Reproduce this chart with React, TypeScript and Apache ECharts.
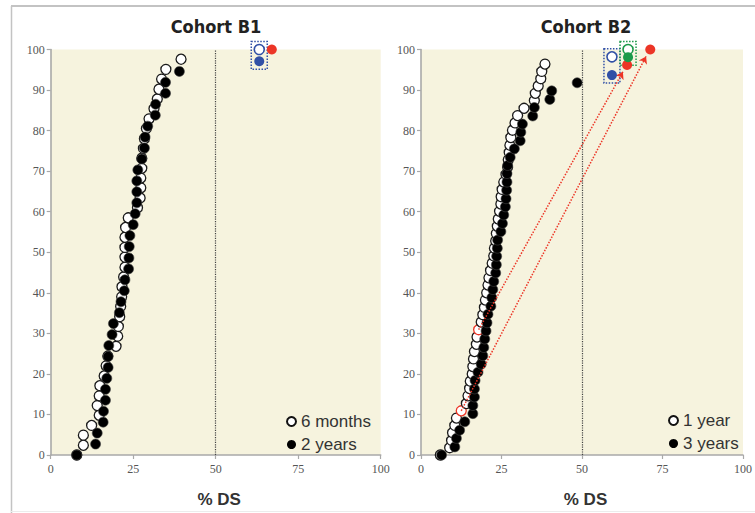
import React, { useEffect, useRef } from "react";
import * as echarts from "echarts";

// ---- Cohort B1 ----
const b1SixMonthsX = [7.9, 9.9, 9.9, 12.4, 14.7, 14.1, 14.7, 14.9, 16.2, 16.8, 17.3, 19.8, 20.3, 20.5, 20.9, 21.2, 21.5, 21.6, 22.1, 22.5, 22.5, 22.5, 22.5, 22.7, 23.5, 26.3, 27.1, 27.3, 27.3, 27.6, 27.6, 28.1, 28.4, 29.0, 29.8, 31.3, 32.3, 32.8, 33.6, 34.9, 39.5];
const b1SixMonthsY = [0, 2.4, 4.9, 7.3, 9.8, 12.2, 14.6, 17.1, 19.5, 22.0, 24.4, 26.8, 29.3, 31.7, 34.1, 36.6, 39.0, 41.5, 43.9, 46.3, 48.8, 51.2, 53.7, 56.1, 58.5, 61.0, 63.4, 65.9, 68.3, 70.7, 73.2, 75.6, 78.0, 80.5, 82.9, 85.4, 87.8, 90.2, 92.7, 95.1, 97.6];
const b1TwoYearsX = [7.9, 13.6, 14.1, 15.9, 16.0, 16.6, 16.6, 17.0, 17.4, 17.4, 17.6, 18.6, 19.0, 20.8, 21.3, 22.3, 22.5, 23.6, 23.7, 23.8, 24.0, 25.0, 25.6, 26.1, 26.1, 26.1, 26.4, 27.6, 28.4, 28.6, 29.4, 31.7, 31.8, 34.8, 34.8, 39.0];
const b1TwoYearsY = [0, 2.7, 5.4, 8.1, 10.8, 13.5, 16.2, 18.9, 21.6, 24.3, 27.0, 29.7, 32.4, 35.1, 37.8, 40.5, 43.2, 45.9, 48.6, 51.4, 54.1, 56.8, 59.5, 62.2, 64.9, 67.6, 70.3, 73.0, 75.7, 78.4, 81.1, 83.8, 86.5, 89.2, 91.9, 94.6];
const b1BlueOpen = [63.2, 100];
const b1BlueFilled = [63.2, 97.1];
const b1RedFilled = [67.0, 100];

// ---- Cohort B2 ----
const b2OneYearX = [6.0, 8.9, 9.5, 9.8, 10.5, 11.0, 12.5, 14.1, 14.6, 15.1, 15.3, 15.9, 16.1, 16.3, 16.6, 17.2, 17.4, 17.9, 18.7, 19.2, 19.7, 20.0, 20.4, 20.8, 21.1, 21.6, 22.1, 22.6, 22.8, 23.2, 23.4, 23.7, 24.0, 24.4, 24.8, 24.9, 25.2, 25.7, 26.4, 26.9, 27.1, 27.4, 27.6, 27.9, 28.4, 29.2, 30.0, 32.0, 35.2, 35.5, 36.4, 37.2, 37.5, 38.5];
const b2OneYearY = [0, 1.8, 3.6, 5.5, 7.3, 9.1, 10.9, 12.7, 14.6, 16.4, 18.2, 20.0, 21.8, 23.7, 25.5, 27.3, 29.1, 30.9, 32.8, 34.6, 36.4, 38.2, 40.0, 41.9, 43.7, 45.5, 47.3, 49.1, 51.0, 52.8, 54.6, 56.4, 58.2, 60.1, 61.9, 63.7, 65.5, 67.3, 69.2, 71.0, 72.8, 74.6, 76.4, 78.3, 80.1, 81.9, 83.7, 85.5, 87.4, 89.2, 91.0, 92.8, 94.6, 96.4];
const b2RedOutlined = [6, 17]; // indices of 1-year points circled in red
const b2ThreeYearsX = [6.4, 10.5, 11.0, 12.0, 13.6, 16.1, 16.1, 16.6, 16.6, 16.8, 17.7, 18.7, 19.2, 19.5, 19.8, 20.2, 20.5, 20.8, 21.7, 22.0, 22.3, 22.6, 23.2, 23.4, 23.5, 23.7, 23.8, 24.8, 25.3, 25.7, 26.2, 26.4, 26.6, 26.7, 26.7, 26.9, 27.7, 29.0, 30.8, 31.0, 31.5, 34.7, 35.2, 40.0, 40.6, 48.5];
const b2ThreeYearsY = [0, 2.0, 4.1, 6.1, 8.2, 10.2, 12.2, 14.3, 16.3, 18.4, 20.4, 22.4, 24.5, 26.5, 28.6, 30.6, 32.6, 34.7, 36.7, 38.8, 40.8, 42.8, 44.9, 46.9, 49.0, 51.0, 53.0, 55.1, 57.1, 59.2, 61.2, 63.2, 65.3, 67.3, 69.4, 71.4, 73.4, 75.5, 77.5, 79.6, 81.6, 83.6, 85.7, 87.7, 89.8, 91.8];
const b2BlueOpen = [59.3, 98.2];
const b2BlueFilled = [59.3, 93.7];
const b2GreenOpen = [64.3, 100];
const b2GreenFilled = [64.3, 98.1];
const b2RedFilledA = [64.0, 96.2];
const b2RedFilledB = [71.2, 100];
const b2Arrows = [
  [[12.5, 10.9], [69.9, 98.3]],
  [[17.9, 30.9], [62.7, 94.5]],
];

const xTicks = { min: 0, max: 100, interval: 25 };
const yTicks = { min: 0, max: 100, interval: 10 };
const cutoff = 50;

const BLUE = "#3150a6";
const RED = "#ec3526";
const GREEN = "#1c9a4a";
const BG = "#f6f3de";
const AXIS = "#a9a9a9";

const zip = (xs: number[], ys: number[]) => xs.map((x, i) => [x, ys[i]]);

const openStyle = { color: "#ffffff", borderColor: "#1a1a1a", borderWidth: 1.3, opacity: 1 };
const filledStyle = { color: "#000000", borderColor: "#444", borderWidth: 0.6, opacity: 1 };

function axisCommon(grid: number) {
  return {
    gridIndex: grid,
    axisLine: { show: true, onZero: false, lineStyle: { color: AXIS, width: 1.6 } },
    axisTick: { show: true, length: 4, lineStyle: { color: AXIS, width: 1.2 } },
    splitLine: { show: false },
    axisLabel: { color: "#555555", fontFamily: "'Liberation Serif', serif", fontSize: 12 },
  };
}

function rectSeries(grid: number, box: number[], color: string) {
  return {
    type: "custom",
    xAxisIndex: grid,
    yAxisIndex: grid,
    silent: true,
    clip: false,
    z: 1,
    data: [box],
    renderItem: (_p: any, api: any) => {
      const top = api.coord([api.value(0), api.value(1)]);
      const bot = api.coord([api.value(0), api.value(2)]);
      return {
        type: "rect",
        shape: { x: top[0] - 8, y: top[1] - 8, width: 16, height: bot[1] - top[1] + 16 },
        style: { fill: "none", stroke: color, lineWidth: 1.5, lineDash: [1.5, 1.5] },
      };
    },
  };
}

function marker(grid: number, pt: number[], style: any) {
  return {
    type: "scatter",
    xAxisIndex: grid,
    yAxisIndex: grid,
    symbol: "circle",
    symbolSize: 10,
    clip: false,
    z: 5,
    itemStyle: { opacity: 1, ...style },
    data: [pt],
  };
}

const legendText = { fontSize: 17, color: "#333", fontFamily: "'Liberation Sans', Arial, sans-serif" };

export default function App() {
  const ref = useRef<HTMLDivElement>(null);
  useEffect(() => {
    if (!ref.current) return;
    const chart = echarts.init(ref.current, undefined, { renderer: "svg" });
    const cutoffLine = {
      silent: true,
      symbol: "none",
      label: { show: false },
      lineStyle: { type: "dotted", color: "#444", width: 1.2 },
      data: [{ xAxis: cutoff }],
    };
    const oneYearData = zip(b2OneYearX, b2OneYearY).map((p, i) =>
      b2RedOutlined.includes(i) ? { value: p, itemStyle: { borderColor: RED } } : p
    );
    chart.setOption({
      animation: false,
      grid: [
        { left: 50.7, top: 49.5, width: 330, height: 413, show: true, backgroundColor: BG, borderWidth: 0 },
        { left: 421, top: 49.5, width: 324, height: 413, show: true, backgroundColor: BG, borderWidth: 0 },
      ],
      xAxis: [0, 1].map((g) => ({
        type: "value",
        ...xTicks,
        ...axisCommon(g),
        name: "% DS",
        nameLocation: "middle",
        nameGap: 36,
        nameTextStyle: {
          fontFamily: "'Liberation Sans', Arial, sans-serif",
          fontWeight: "bold",
          fontSize: 17,
          color: "#333",
          padding: [0, 0, 0, 7],
        },
      })),
      yAxis: [0, 1].map((g) => ({
        type: "value",
        ...yTicks,
        ...axisCommon(g),
        axisLabel: { ...axisCommon(g).axisLabel, margin: 6 },
      })),
      legend: [
        {
          orient: "vertical",
          left: 286,
          top: 413,
          padding: 0,
          itemWidth: 9,
          itemHeight: 9,
          itemGap: 6,
          icon: "circle",
          textStyle: legendText,
          data: [
            { name: "6 months", itemStyle: { color: "#fff", borderColor: "#111", borderWidth: 2 } },
            { name: "2 years", itemStyle: { color: "#000", borderWidth: 0 } },
          ],
        },
        {
          orient: "vertical",
          left: 668,
          top: 412,
          padding: 0,
          itemWidth: 9,
          itemHeight: 9,
          itemGap: 6,
          icon: "circle",
          textStyle: legendText,
          data: [
            { name: "1 year", itemStyle: { color: "#fff", borderColor: "#111", borderWidth: 2 } },
            { name: "3 years", itemStyle: { color: "#000", borderWidth: 0 } },
          ],
        },
      ],
      graphic: [
        { type: "line", shape: { x1: 11, y1: 6, x2: 755, y2: 6 }, style: { stroke: "#c3c3c3", lineWidth: 2 }, silent: true },
        { type: "line", shape: { x1: 11.5, y1: 6, x2: 11.5, y2: 513 }, style: { stroke: "#c3c3c3", lineWidth: 1.5 }, silent: true },
        { type: "line", shape: { x1: 11, y1: 511.5, x2: 755, y2: 511.5 }, style: { stroke: "#ececec", lineWidth: 1 }, silent: true },
        {
          type: "text",
          x: 216,
          y: 26,
          style: {
            text: "Cohort B1",
            fill: "#222",
            font: "bold 18px 'DejaVu Sans Condensed', 'DejaVu Sans', sans-serif",
            textAlign: "center",
            textVerticalAlign: "middle",
          },
        },
        {
          type: "text",
          x: 586,
          y: 26,
          style: {
            text: "Cohort B2",
            fill: "#222",
            font: "bold 18px 'DejaVu Sans Condensed', 'DejaVu Sans', sans-serif",
            textAlign: "center",
            textVerticalAlign: "middle",
          },
        },
      ],
      series: [
        {
          name: "6 months",
          type: "scatter",
          xAxisIndex: 0,
          yAxisIndex: 0,
          symbol: "circle",
          symbolSize: 10,
          clip: false,
          itemStyle: openStyle,
          data: zip(b1SixMonthsX, b1SixMonthsY),
          markLine: cutoffLine,
        },
        {
          name: "2 years",
          type: "scatter",
          xAxisIndex: 0,
          yAxisIndex: 0,
          symbol: "circle",
          symbolSize: 10,
          clip: false,
          itemStyle: filledStyle,
          data: zip(b1TwoYearsX, b1TwoYearsY),
        },
        rectSeries(0, [b1BlueOpen[0], b1BlueOpen[1], b1BlueFilled[1]], BLUE),
        marker(0, b1BlueOpen, { color: "#fff", borderColor: BLUE, borderWidth: 1.6 }),
        marker(0, b1BlueFilled, { color: BLUE }),
        marker(0, b1RedFilled, { color: RED }),
        {
          name: "1 year",
          type: "scatter",
          xAxisIndex: 1,
          yAxisIndex: 1,
          symbol: "circle",
          symbolSize: 10,
          clip: false,
          itemStyle: openStyle,
          data: oneYearData,
          markLine: cutoffLine,
        },
        {
          name: "3 years",
          type: "scatter",
          xAxisIndex: 1,
          yAxisIndex: 1,
          symbol: "circle",
          symbolSize: 10,
          clip: false,
          itemStyle: filledStyle,
          data: zip(b2ThreeYearsX, b2ThreeYearsY),
        },
        {
          type: "lines",
          coordinateSystem: "cartesian2d",
          xAxisIndex: 1,
          yAxisIndex: 1,
          silent: true,
          z: 4,
          symbol: ["none", "arrow"],
          symbolSize: 7,
          lineStyle: { color: RED, type: "dotted", width: 1.5, opacity: 1 },
          data: b2Arrows.map((c) => ({ coords: c })),
        },
        rectSeries(1, [b2BlueOpen[0], b2BlueOpen[1], b2BlueFilled[1]], BLUE),
        rectSeries(1, [b2GreenOpen[0], b2GreenOpen[1], b2GreenFilled[1]], GREEN),
        marker(1, b2BlueOpen, { color: "#fff", borderColor: BLUE, borderWidth: 1.6 }),
        marker(1, b2BlueFilled, { color: BLUE }),
        marker(1, b2RedFilledA, { color: RED }),
        marker(1, b2GreenOpen, { color: "#fff", borderColor: GREEN, borderWidth: 1.6 }),
        marker(1, b2GreenFilled, { color: GREEN }),
        marker(1, b2RedFilledB, { color: RED }),
      ],
    });
    return () => chart.dispose();
  }, []);
  return (
    <div
      ref={ref}
      style={{ position: "absolute", left: 0, top: 0, width: 755, height: 513, background: "#fff" }}
    />
  );
}
